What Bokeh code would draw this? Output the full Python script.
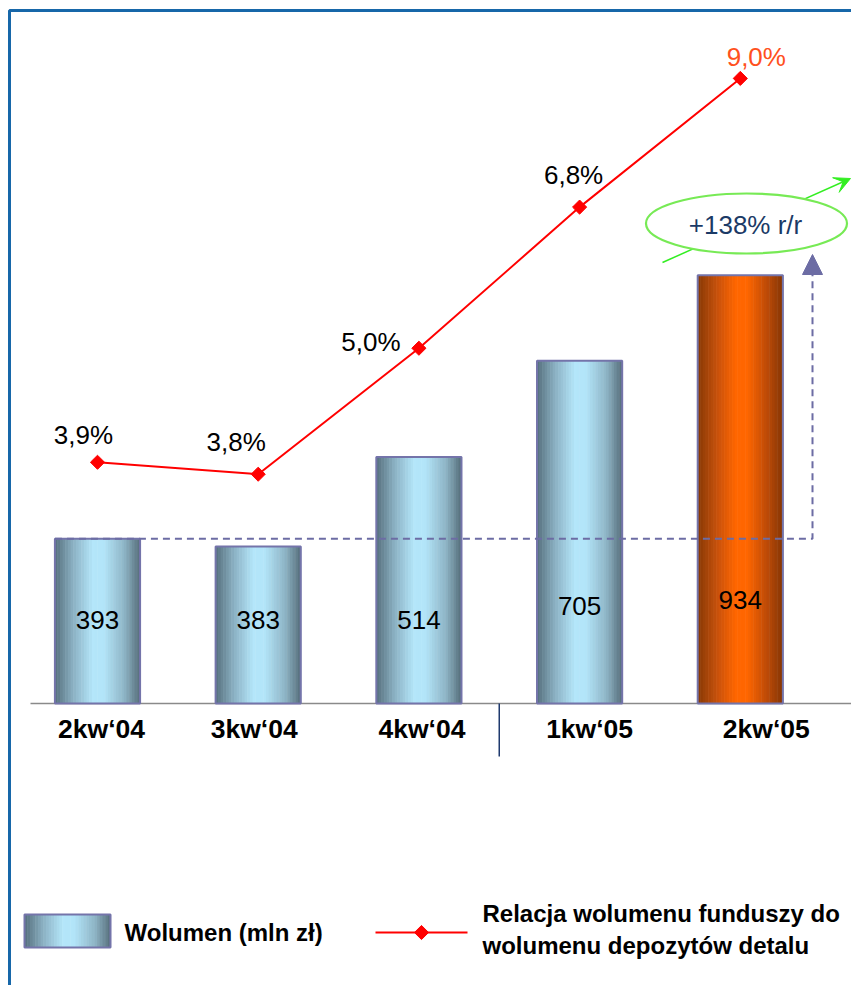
import math
from bokeh.plotting import figure
from bokeh.models import Range1d, LogScale, ColumnDataSource, Arrow, NormalHead, VeeHead
from bokeh.core.properties import value
from bokeh.embed import file_html
from bokeh.resources import INLINE

# ---------------- data ----------------
categories = ["2kw\u201804", "3kw\u201804", "4kw\u201804", "1kw\u201805", "2kw\u201805"]
volumes = [393, 383, 514, 705, 934]            # Wolumen (mln zł)
ratio_pct = [3.9, 3.8, 5.0, 6.8, 9.0]          # Relacja wolumenu funduszy do wolumenu depozytów detalu (%)
growth_label = "+138% r/r"
legend_bar = "Wolumen (mln z\u0142)"
legend_line = "Relacja wolumenu funduszy do\nwolumenu depozytów detalu"

# ---------------- layout constants ----------------
W, H = 851, 985
X0, DX = 97.0, 160.7          # pixel of first category, pixels per category
BAR_W = 0.53
BASE_PX, BASE_VAL, K_B = 703.0, 228.7, 304.4   # bar scale (log)
L_PX, L_LN, K_L = 313.6, 1.6838, 459.0        # line scale (log)

def xd(px):
    return (px - X0) / DX

def yb(py):
    return BASE_VAL * math.exp((BASE_PX - py) / K_B)

def yl(py):
    return math.exp(L_LN + (L_PX - py) / K_L)

FONT = value("Liberation Sans")
BLUE_STOPS = [(0.0, (0x55, 0x6f, 0x7d)), (0.22, (0x8c, 0xb2, 0xc4)), (0.45, (0xb4, 0xe6, 0xfa)),
              (0.58, (0xb2, 0xe4, 0xf8)), (0.82, (0x8e, 0xb4, 0xc5)), (1.0, (0x55, 0x6e, 0x7b))]
ORANGE_STOPS = [(0.0, (0x86, 0x38, 0x04)), (0.22, (0xc4, 0x50, 0x0c)), (0.45, (0xff, 0x66, 0x00)),
                (0.58, (0xff, 0x66, 0x00)), (0.82, (0xbc, 0x4a, 0x08)), (1.0, (0x86, 0x36, 0x04))]
OUTLINE = "#7474aa"
DASH = "#6c6ca4"
RED = "#ff0000"
GREEN = "#33ee22"
BORDER = "#1767a9"


def grad(stops, t):
    for (t0, c0), (t1, c1) in zip(stops[:-1], stops[1:]):
        if t <= t1:
            f = (t - t0) / (t1 - t0) if t1 > t0 else 0
            r, g, b = (int(round(a + (bb - a) * f)) for a, bb in zip(c0, c1))
            return "#%02x%02x%02x" % (r, g, b)
    return "#%02x%02x%02x" % stops[-1][1]


p = figure(width=W, height=H, x_range=Range1d(xd(0), xd(W)),
           y_range=Range1d(yl(H), yl(0)), y_axis_type="log",
           extra_y_ranges={"bars": Range1d(yb(H), yb(0))},
           extra_y_scales={"bars": LogScale()},
           x_axis_location=None, y_axis_location=None,
           output_backend="svg", toolbar_location=None, min_border=0)
p.outline_line_color = None
p.background_fill_color = "white"
p.border_fill_color = "white"
for g in p.grid:
    g.visible = False

# frame border (left and top)
p.line(x=[xd(9), xd(9), xd(W + 50)], y=[yb(H + 50), yb(10), yb(10)],
       line_color=BORDER, line_width=3, y_range_name="bars")

# baseline axis
p.line(x=[xd(30), xd(W + 10)], y=[BASE_VAL, BASE_VAL], line_color="#8a8a8a",
       line_width=1.6, y_range_name="bars")
# separator between years
p.line(x=[2.5, 2.5], y=[BASE_VAL, yb(756)], line_color="#1f3a6e", line_width=1.5,
       y_range_name="bars")

# gradient bars
N = 32
sw = BAR_W / N
xs, tops, cols = [], [], []
for i, v in enumerate(volumes):
    stops = ORANGE_STOPS if i == len(volumes) - 1 else BLUE_STOPS
    for k in range(N):
        xs.append(i - BAR_W / 2 + (k + 0.5) * sw)
        tops.append(v)
        cols.append(grad(stops, (k + 0.5) / N))
p.vbar(x="x", top="top", bottom=BASE_VAL, width=sw * 1.2, fill_color="c", line_color=None,
       y_range_name="bars", source=ColumnDataSource(dict(x=xs, top=tops, c=cols)))
p.vbar(x=list(range(len(volumes))), top=volumes, bottom=BASE_VAL, width=BAR_W,
       fill_color=None, line_color=OUTLINE, line_width=2, y_range_name="bars")

# value labels in bars
val_dy = [-84, -84, -84, -98, -104]
p.text(x="x", y="y", text="t", y_offset="dy", source=ColumnDataSource(dict(
    x=list(range(len(volumes))), y=[BASE_VAL] * len(volumes),
    t=[str(v) for v in volumes], dy=val_dy)),
    text_font=FONT, text_font_size=value("26px"), text_color="#000000",
    text_align="center", text_baseline="middle", y_range_name="bars")

# category labels
cat_dx = [4, -4, 3, 10, 26]
p.text(x="x", y="y", text="t", x_offset="dx", y_offset=25, source=ColumnDataSource(dict(
    x=list(range(len(categories))), y=[BASE_VAL] * len(categories), t=categories, dx=cat_dx)),
    text_font=FONT, text_font_size=value("26.5px"), text_font_style="bold", text_color="#000000",
    text_align="center", text_baseline="middle", y_range_name="bars")

# dashed comparison line with arrow
p.line(x=[0 - BAR_W / 2, xd(812), xd(812)], y=[volumes[0], volumes[0], yb(272)],
       line_color=DASH, line_width=2, line_dash="7 5", y_range_name="bars")
p.add_layout(Arrow(x_start=xd(812), y_start=yb(274), x_end=xd(812), y_end=yb(254),
                   y_range_name="bars", line_alpha=0,
                   end=NormalHead(size=20, fill_color=DASH, line_color=DASH)))

# ratio line
idx = list(range(len(ratio_pct)))
p.line(x=idx, y=ratio_pct, line_color=RED, line_width=2)
p.scatter(x=idx, y=ratio_pct, marker="square", angle=math.pi / 4, size=10,
          fill_color=RED, line_color=RED)
pct_dx = [-14, -22, -48, -6, 16]
pct_dy = [-27, -32, -6, -32, -21]
pct_col = ["#000000", "#000000", "#000000", "#000000", "#ff5020"]
p.text(x="x", y="y", text="t", x_offset="dx", y_offset="dy", text_color="c",
       source=ColumnDataSource(dict(x=idx, y=ratio_pct,
                                    t=[("%.1f" % v).replace(".", ",") + "%" for v in ratio_pct],
                                    dx=pct_dx, dy=pct_dy, c=pct_col)),
       text_font=FONT, text_font_size=value("26px"), text_align="center", text_baseline="middle")

# growth callout
p.add_layout(Arrow(x_start=xd(662), y_start=yl(262), x_end=xd(850), y_end=yl(178),
                   line_color=GREEN, line_width=1.5,
                   end=VeeHead(size=16, fill_color=GREEN, line_color=GREEN)))
p.ellipse(x=[xd(746)], y=[yl(223)], width=201, height=60, width_units="screen",
          height_units="screen", fill_color="white", line_color="#77ea55", line_width=2.2,
          level="overlay")
p.text(x=[xd(745)], y=[yl(224)], text=[growth_label], text_font=FONT,
       text_font_size=value("26px"), text_color="#1b3a66", text_align="center",
       text_baseline="middle", level="overlay")

# legend (manual)
lx0, lx1 = xd(24), xd(110)
lsw = (lx1 - lx0) / N
p.quad(left=[lx0 + k * lsw for k in range(N)], right=[lx0 + (k + 1.2) * lsw for k in range(N)],
       bottom=[yb(947)] * N, top=[yb(914)] * N,
       fill_color=[grad(BLUE_STOPS, (k + 0.5) / N) for k in range(N)], line_color=None,
       y_range_name="bars")
p.quad(left=[lx0], right=[lx1], bottom=[yb(947)], top=[yb(914)], fill_color=None,
       line_color=OUTLINE, line_width=2, y_range_name="bars")
p.text(x=[xd(124)], y=[yb(932)], text=[legend_bar], text_font=FONT,
       text_font_size=value("24px"), text_font_style="bold", text_color="#000000",
       text_align="left", text_baseline="middle", y_range_name="bars")
p.line(x=[xd(375), xd(467)], y=[yb(932), yb(932)], line_color=RED, line_width=2,
       y_range_name="bars")
p.scatter(x=[xd(421)], y=[yb(932)], marker="square", angle=math.pi / 4, size=10,
          fill_color=RED, line_color=RED, y_range_name="bars")
p.text(x=[xd(482)], y=[yb(929)], text=[legend_line], text_font=FONT,
       text_font_size=value("24px"), text_font_style="bold", text_color="#000000",
       text_align="left", text_baseline="middle", text_line_height=1.2, y_range_name="bars")

open("out.html", "w").write(file_html(p, INLINE))
